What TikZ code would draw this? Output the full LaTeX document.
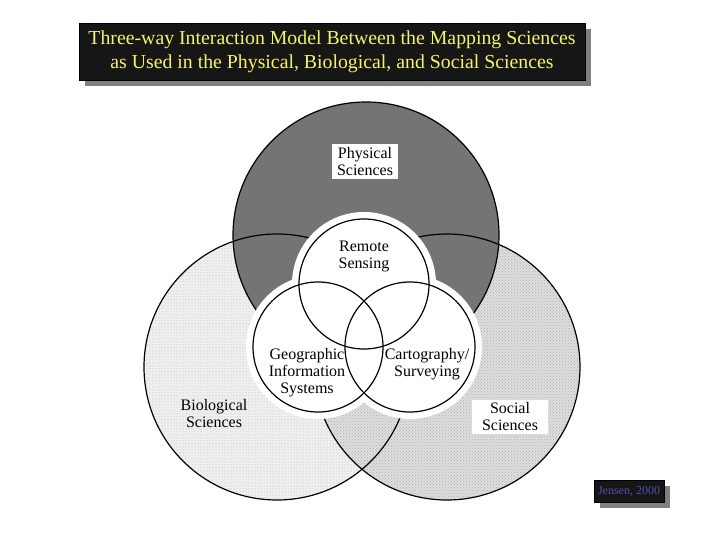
\documentclass[tikz,border=0pt]{standalone}
\usepackage{fontspec}
\setmainfont{Liberation Serif}
\usetikzlibrary{patterns,shadows}
\definecolor{physgray}{RGB}{116,116,116}
\definecolor{biogray}{RGB}{240,240,240}
\definecolor{socgray}{RGB}{222,222,222}
\definecolor{titlebg}{RGB}{22,22,22}
\definecolor{titleyel}{RGB}{244,244,110}
\definecolor{shadowgray}{RGB}{128,128,128}
\definecolor{jensenblue}{RGB}{80,80,180}

\begin{document}
\begin{tikzpicture}[x=1pt, y=-1pt,
  ring/.style={line width=1.2pt},
  lbl/.style={font=\fontsize{16}{17}\selectfont, align=center, inner sep=2pt},
  lblbox/.style={lbl, fill=white},
  darkbox/.style={fill=titlebg, draw=black,
    general shadow={fill=shadowgray, shadow xshift=6pt, shadow yshift=-6pt}}]
\useasboundingbox (0,0) rectangle (720,540);

\node[darkbox, minimum width=506pt, minimum height=57pt, text=titleyel,
  font=\fontsize{19.8}{24}\selectfont, align=center] (title) at (332,51.5)
  {Three-way Interaction Model Between the Mapping Sciences\\
   as Used in the Physical, Biological, and Social Sciences};

\coordinate (phys) at (366,235);
\coordinate (bio) at (277,367);
\coordinate (soc) at (447,367);
\coordinate (rs) at (364,284);
\coordinate (gis) at (318,347);
\coordinate (cart) at (410,347);

\fill[biogray] (bio) circle (133);
\fill[pattern=dots, pattern color=gray!65] (bio) circle (133);
\fill[socgray] (soc) circle (133);
\fill[pattern=crosshatch dots, pattern color=gray!65] (soc) circle (133);
\fill[physgray] (phys) circle (133);
\foreach \c in {bio, soc, phys}
  \draw[ring] (\c) circle (133);

\foreach \c in {rs, gis, cart}
  \draw[white, fill=white, line width=14pt] (\c) circle (65);
\foreach \c in {rs, gis, cart}
  \draw[ring] (\c) circle (65);

\node[lblbox, minimum width=66pt, minimum height=35pt] (physlbl) at (365,162) {Physical\\Sciences};
\node[lbl] (biolbl) at (214,414) {Biological\\Sciences};
\node[lblbox, minimum width=76pt, minimum height=34pt] (soclbl) at (510,417) {Social\\Sciences};
\node[lbl] (rslbl) at (364,256) {Remote\\Sensing};
\node[lbl] (gislbl) at (307,373) {Geographic\\Information\\Systems};
\node[lbl] (cartlbl) at (427,364) {Cartography/\\Surveying};

\node[darkbox, minimum width=70pt, minimum height=22pt, text=jensenblue,
  font=\fontsize{12}{12}\selectfont] (jensen) at (629,491) {Jensen, 2000};
\end{tikzpicture}
\end{document}
